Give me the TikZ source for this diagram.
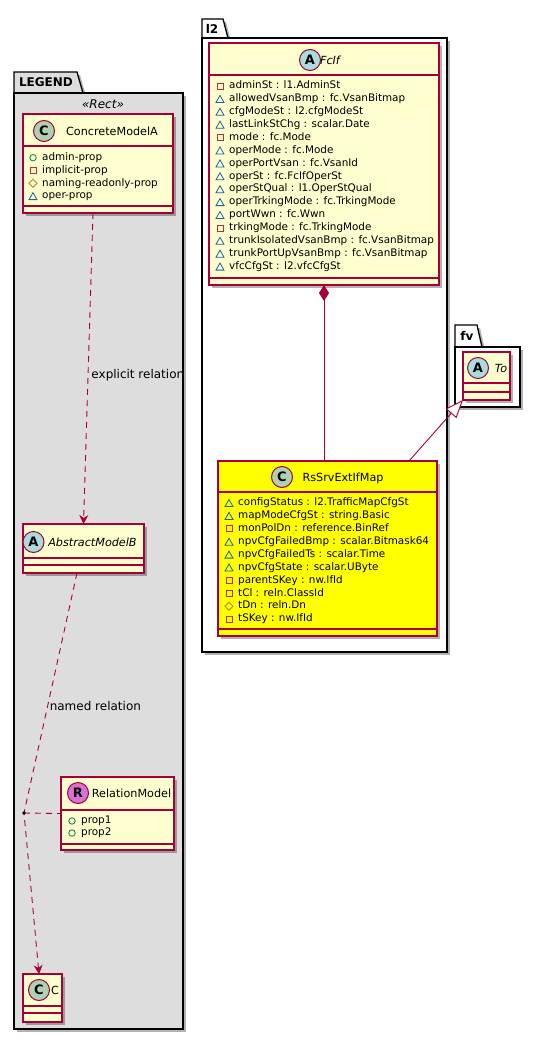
\documentclass[tikz,border=0pt]{standalone}
\usepackage{fontspec}
\setmainfont{DejaVu Sans}
\usetikzlibrary{arrows.meta,shadows,calc}
\definecolor{pborder}{HTML}{A80036}
\definecolor{pfill}{HTML}{FEFECE}
\definecolor{spotC}{HTML}{ADD1B2}
\definecolor{spotA}{HTML}{A9DCDF}
\definecolor{spotR}{HTML}{DA70D6}
\definecolor{legendbg}{HTML}{DDDDDD}
\definecolor{ipub}{HTML}{038048}
\definecolor{ipriv}{HTML}{C82930}
\definecolor{iprot}{HTML}{B38D22}
\definecolor{ipkg}{HTML}{1963A0}
\definecolor{rsyellow}{HTML}{FFFF00}
\newcounter{nodec}
\newcommand\Icopub[2]{\draw[ipub, line width=0.8pt] (#1,#2) circle (3.2pt);}
\newcommand\Icopriv[2]{\draw[ipriv, line width=0.8pt] (#1-3,#2-3) rectangle (#1+3,#2+3);}
\newcommand\Icoprot[2]{\draw[iprot, line width=0.8pt] (#1,#2-4) -- (#1+4,#2) -- (#1,#2+4) -- (#1-4,#2) -- cycle;}
\newcommand\Icopkg[2]{\draw[ipkg, line width=0.8pt] (#1,#2-3.5) -- (#1+4,#2+3.5) -- (#1-4,#2+3.5) -- cycle;}
\newcommand\AttrRow[4]{%
  \csname Ico#1\endcsname{#2}{#3}%
  \stepcounter{nodec}%
  \node[attr] (t\arabic{nodec}) at (#2+9,#3) {#4};}
\begin{document}
\begin{tikzpicture}[x=1pt,y=-1pt,
  shad/.style={drop shadow={shadow xshift=3pt,shadow yshift=-3pt,opacity=0.3,fill=black}},
  pkgshape/.style={draw=black, line width=1.3pt, shad},
  pkgtitle/.style={font=\bfseries\fontsize{12}{14}\selectfont, inner sep=0, text height=8.8pt, text depth=0pt},
  cls/.style={draw=pborder, fill=pfill, line width=1.2pt, inner sep=0, outer sep=0, shad},
  sepline/.style={draw=pborder, line width=1.2pt},
  spot/.style={circle, draw=pborder, line width=1pt, minimum size=21pt, inner sep=0, font=\bfseries\fontsize{13}{13}\selectfont},
  cname/.style={font=\fontsize{11.2}{13}\selectfont, inner sep=0, text height=8.2pt, text depth=0pt},
  attr/.style={anchor=west, inner sep=0, font=\fontsize{10.4}{12}\selectfont, text height=7.5pt, text depth=2pt},
  rel/.style={draw=pborder, line width=0.9pt},
  dep/.style={rel, dash pattern=on 6pt off 5pt, -{Stealth[length=9pt,width=9pt,inset=3pt]}},
  lbl/.style={font=\fontsize{12}{14}\selectfont, inner sep=0, text height=8.5pt, text depth=2.5pt}
]
\useasboundingbox (0,0) rectangle (540,1041);

% ---------------- packages ----------------
\draw[pkgshape, fill=legendbg] (14,93) -- (14,72) -- (77,72) -- (83,93) -- cycle;
\node[pkgshape, fill=legendbg, minimum width=169pt, minimum height=936pt, inner sep=0, outer sep=0] (legend) at (98.5,561) {};
\node[pkgtitle] (legendt) at (46,82.5) {LEGEND};
\node[font=\itshape\fontsize{12}{14}\selectfont, inner sep=0, text height=8.5pt, text depth=0pt] (stereo) at (103,104) {«Rect»};

\draw[pkgshape, fill=white] (202,38) -- (202,19) -- (223,19) -- (228,38) -- cycle;
\node[pkgshape, fill=white, minimum width=245pt, minimum height=614pt, inner sep=0, outer sep=0] (l2) at (324.5,345) {};
\node[pkgtitle] (l2t) at (212,29) {l2};

\draw[pkgshape, fill=white] (455,347) -- (455,325) -- (477,325) -- (482,347) -- cycle;
\node[pkgshape, fill=white, minimum width=65pt, minimum height=60pt, inner sep=0, outer sep=0] (fv) at (487.5,377) {};
\node[pkgtitle] (fvt) at (467,336) {fv};

% ---------------- FcIf ----------------
\node[cls, minimum width=230pt, minimum height=242pt] (fcif) at (324,164) {};
\draw[sepline] (fcif.west |- 0,75) -- (fcif.east |- 0,75);
\draw[sepline] (fcif.west |- 0,278) -- (fcif.east |- 0,278);
\node[spot, fill=spotA] (fcifs) at (310,60) {A};
\node[cname, font=\itshape\fontsize{11.2}{13}\selectfont] (fcifn) at (330,60) {FcIf};
\foreach \ic/\tx [count=\i from 0] in {
  priv/{adminSt : l1.AdminSt},
  pkg/{allowedVsanBmp : fc.VsanBitmap},
  pkg/{cfgModeSt : l2.cfgModeSt},
  pkg/{lastLinkStChg : scalar.Date},
  priv/{mode : fc.Mode},
  pkg/{operMode : fc.Mode},
  pkg/{operPortVsan : fc.VsanId},
  pkg/{operSt : fc.FcIfOperSt},
  pkg/{operStQual : l1.OperStQual},
  pkg/{operTrkingMode : fc.TrkingMode},
  pkg/{portWwn : fc.Wwn},
  priv/{trkingMode : fc.TrkingMode},
  pkg/{trunkIsolatedVsanBmp : fc.VsanBitmap},
  pkg/{trunkPortUpVsanBmp : fc.VsanBitmap},
  pkg/{vfcCfgSt : l2.vfcCfgSt}}{
  \pgfmathsetmacro\yy{86+\i*12.9}
  \AttrRow{\ic}{220}{\yy}{\tx}
}

% ---------------- RsSrvExtIfMap ----------------
\node[cls, fill=rsyellow, minimum width=219pt, minimum height=175pt] (rs) at (327.5,548.5) {};
\draw[sepline] (rs.west |- 0,492) -- (rs.east |- 0,492);
\draw[sepline] (rs.west |- 0,629) -- (rs.east |- 0,629);
\node[spot, fill=spotC] (rss) at (282,477) {C};
\node[cname] (rsn) at (343,477) {RsSrvExtIfMap};
\foreach \ic/\tx [count=\i from 0] in {
  pkg/{configStatus : l2.TrafficMapCfgSt},
  pkg/{mapModeCfgSt : string.Basic},
  priv/{monPolDn : reference.BinRef},
  pkg/{npvCfgFailedBmp : scalar.Bitmask64},
  pkg/{npvCfgFailedTs : scalar.Time},
  pkg/{npvCfgState : scalar.UByte},
  priv/{parentSKey : nw.IfId},
  priv/{tCl : reln.ClassId},
  prot/{tDn : reln.Dn},
  priv/{tSKey : nw.IfId}}{
  \pgfmathsetmacro\yy{503+\i*12.9}
  \AttrRow{\ic}{229}{\yy}{\tx}
}

% ---------------- To ----------------
\node[cls, minimum width=47pt, minimum height=48pt] (to) at (486.5,376) {};
\draw[sepline] (to.west |- 0,383) -- (to.east |- 0,383);
\draw[sepline] (to.west |- 0,392) -- (to.east |- 0,392);
\node[spot, fill=spotA] (tos) at (478,368) {A};
\node[cname, font=\itshape\fontsize{11.2}{13}\selectfont] (ton) at (501,368) {To};

% ---------------- ConcreteModelA ----------------
\node[cls, minimum width=150pt, minimum height=99pt] (cma) at (98,163.5) {};
\draw[sepline] (cma.west |- 0,146) -- (cma.east |- 0,146);
\draw[sepline] (cma.west |- 0,206) -- (cma.east |- 0,206);
\node[spot, fill=spotC] (cmas) at (44,131) {C};
\node[cname] (cman) at (112,131) {ConcreteModelA};
\foreach \ic/\tx [count=\i from 0] in {
  pub/{admin-prop},
  priv/{implicit-prop},
  prot/{naming-readonly-prop},
  pkg/{oper-prop}}{
  \pgfmathsetmacro\yy{157.7+\i*12.8}
  \AttrRow{\ic}{33}{\yy}{\tx}
}

% ---------------- AbstractModelB ----------------
\node[cls, minimum width=121pt, minimum height=49pt] (amb) at (83.5,548.5) {};
\draw[sepline] (amb.west |- 0,558) -- (amb.east |- 0,558);
\draw[sepline] (amb.west |- 0,565) -- (amb.east |- 0,565);
\node[spot, fill=spotA] (ambs) at (33.5,542) {A};
\node[cname, font=\itshape\fontsize{11.2}{13}\selectfont] (ambn) at (92.5,542) {AbstractModelB};

% ---------------- RelationModel ----------------
\node[cls, minimum width=113pt, minimum height=73pt] (rm) at (117.5,813.5) {};
\draw[sepline] (rm.west |- 0,810) -- (rm.east |- 0,810);
\draw[sepline] (rm.west |- 0,844) -- (rm.east |- 0,844);
\node[spot, fill=spotR] (rms) at (78,793) {R};
\node[cname] (rmn) at (131.5,793) {RelationModel};
\AttrRow{pub}{72}{821}{prop1}
\AttrRow{pub}{72}{833}{prop2}

% ---------------- C ----------------
\node[cls, minimum width=39pt, minimum height=48pt] (cc) at (42.5,998) {};
\draw[sepline] (cc.west |- 0,1006) -- (cc.east |- 0,1006);
\draw[sepline] (cc.west |- 0,1013) -- (cc.east |- 0,1013);
\node[spot, fill=spotC] (ccs) at (39,990) {C};
\node[cname] (ccn) at (55,990) {C};

% ---------------- connectors ----------------
\draw[rel, -{Diamond[length=16pt,width=10pt]}] (fcif.south |- rs.north) -- (fcif.south);
\draw[rel, -{Triangle[open, fill=white, length=18pt, width=14pt]}] ([xshift=-28pt]rs.north east) -- (to.south west);
\draw[dep] ([xshift=-5pt]cma.south) -- node[lbl, pos=0.524, anchor=west, xshift=3pt] (lblexp) {explicit relation} (amb.north);
\coordinate (jn) at (24,813);
\draw[dep] ([xshift=-6.5pt]amb.south) -- node[lbl, pos=0.56, anchor=west, xshift=2pt] (lblnamed) {named relation} (jn) -- ([xshift=-3.5pt]cc.north);
\draw[rel, dash pattern=on 6pt off 5pt] (jn) -- (rm.west);
\fill[black] (jn) circle (1.8pt);
\end{tikzpicture}
\end{document}
